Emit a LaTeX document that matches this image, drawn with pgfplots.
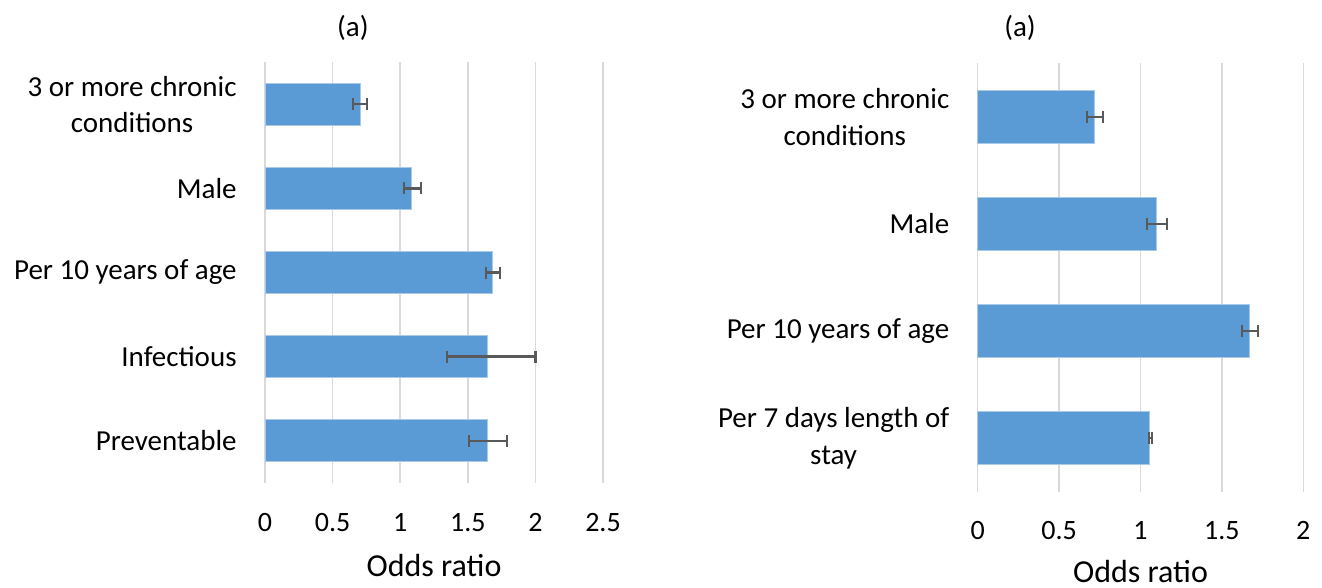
\documentclass[border=0pt]{standalone}
\usepackage{pgfplots}
\pgfplotsset{compat=1.18}
\usepackage{fontspec}
\setmainfont{Carlito}

\definecolor{barblue}{HTML}{5B9BD5}
\definecolor{baredge}{HTML}{A9C9E8}
\definecolor{gridgray}{HTML}{D9D9D9}
\definecolor{errgray}{HTML}{595959}

\pgfplotsset{
  orbar/.style={
    scale only axis,
    xbar,
    bar width=0.5,
    y dir=reverse,
    ymin=-0.5,
    xmin=0,
    xmajorgrids,
    grid style={draw=gridgray, line width=0.75pt},
    axis line style={draw=none},
    tick style={draw=none},
    major tick length=0pt,
    ytick={0,1,2,3,4},
    /pgf/number format/assume math mode=true,
    xticklabel style={font=\fontsize{14}{16}\selectfont, anchor=center, inner sep=0pt},
    yticklabel style={font=\fontsize{14.5}{18.3}\selectfont, align=center, anchor=east, inner sep=0pt, xshift=-14pt},
    xlabel={Odds ratio},
    xlabel style={font=\fontsize{16}{18}\selectfont, at={(axis description cs:0.5,0)}, anchor=base, inner sep=0pt},
    title={(a)},
    every axis title shift=0pt,
    title style={font=\fontsize{14.5}{17}\selectfont, anchor=center, inner sep=0pt},
    error bars/x dir=both,
    error bars/x explicit,
    error bars/error bar style={draw=errgray, line width=1.1pt},
    error bars/error mark options={draw=errgray, line width=1.1pt, mark size=3pt, rotate=90},
    clip=false,
  },
  orfill/.style={fill=barblue, draw=baredge, line width=0.5pt},
}

\begin{document}
\begin{tikzpicture}
\path[use as bounding box] (0,0) rectangle (661pt,294pt);

% Panel 1: all admissions
\begin{axis}[orbar,
  at={(132.5pt,52.65pt)}, anchor=south west,
  width=169pt, height=210.2pt,
  xmax=2.5, ymax=4.5,
  xtick={0,0.5,1,1.5,2,2.5},
  yticklabels={{3 or more chronic\\conditions},{Male},{Per 10 years of age},{Infectious},{Preventable}},
  xticklabel style={yshift=-19.9pt},
  xlabel style={yshift=-46.7pt},
  title style={at={(axis description cs:0.26,1)}, yshift=17.2pt},
]
\addplot[orfill] coordinates {
  (0.705,0) += (0.052,0) -= (0.052,0)
  (1.087,1) += (0.065,0) -= (0.059,0)
  (1.686,2) += (0.055,0) -= (0.049,0)
  (1.645,3) += (0.355,0) -= (0.301,0)
  (1.642,4) += (0.150,0) -= (0.136,0)
};
\end{axis}

% Panel 2: with length of stay
\begin{axis}[orbar,
  at={(488.85pt,48.15pt)}, anchor=south west,
  width=162.8pt, height=214.2pt,
  xmax=2, ymax=3.5,
  xtick={0,0.5,1,1.5,2},
  ytick={0,1,2,3},
  yticklabels={{3 or more chronic\\conditions},{Male},{Per 10 years of age},{Per 7 days length of\\stay}},
  xticklabel style={yshift=-19.4pt},
  xlabel style={yshift=-45.2pt},
  title style={at={(axis description cs:0.13,1)}, yshift=17.6pt},
]
\addplot[orfill] coordinates {
  (0.716,0) += (0.056,0) -= (0.047,0)
  (1.099,1) += (0.066,0) -= (0.061,0)
  (1.671,2) += (0.053,0) -= (0.049,0)
  (1.058,3) += (0.013,0) -= (0.008,0)
};
\end{axis}
\end{tikzpicture}
\end{document}
